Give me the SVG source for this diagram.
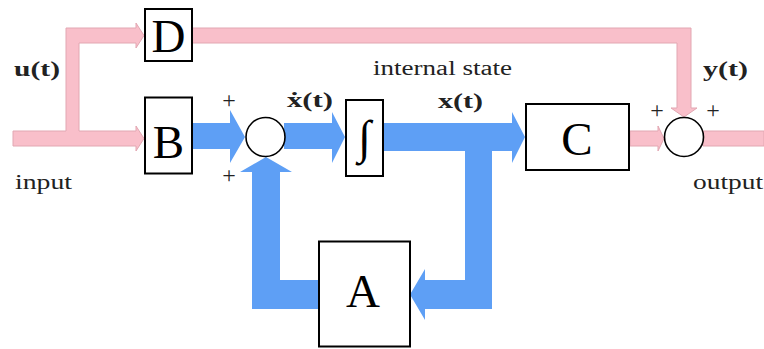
<svg xmlns="http://www.w3.org/2000/svg" width="764" height="349" viewBox="0 0 764 349">
<style>
.pink{fill:#f9bfca;stroke:#e2a7b2;stroke-width:1}
.blue{fill:#5e9ff5}
.box{fill:#fff;stroke:#000;stroke-width:2}
.sum{fill:#fff;stroke:#000;stroke-width:1.6}
text{font-family:"Liberation Serif","Times New Roman",serif}
.big{font-size:47px;text-anchor:middle;fill:#000}
.lbl{font-size:20px;font-weight:bold;fill:#222}
.txt{font-size:20px;fill:#222}
.pl{font-size:24px;text-anchor:middle;fill:#222}
</style>
<rect width="764" height="349" fill="#fff"/>
<g id="connectors">
  <path class="pink" d="M13,131 H66 V28 H136 V23 L144,35.5 L136,48 V43 H79 V131 H136 V126 L144,138.5 L136,151 V146 H13 Z"/>
  <path class="pink" d="M192,28 H691 V108 H697 L684,117 L671,108 H677 V43 H192 Z"/>
  <path class="pink" d="M630,131 H658 V126 L664,138.5 L658,151 V146 H630 Z"/>
  <path class="pink" d="M703,131 H764 V146 H703 Z"/>
  <path class="blue" d="M192,123 H230 V110 L245,137 L230,163 V149 H192 Z"/>
  <path class="blue" d="M284,123 H332 V112 L345,137 L332,163 V149 H284 Z"/>
  <path class="blue" d="M384,123 H512 V112 L525,137 L512,163 V151 H492 V309 H425 V320 L410,294.5 L425,269 V280 H465 V151 H384 Z"/>
  <path class="blue" d="M318,280 H280 V172 H292 L266,157 L240,172 H252 V309 H318 Z"/>
</g>
<g id="node-D"><rect class="box" x="145" y="9" width="47" height="52"/><text class="big" x="168.5" y="52">D</text></g>
<g id="node-B"><rect class="box" x="145" y="97.5" width="47" height="76"/><text class="big" x="168.5" y="158">B</text></g>
<g id="node-int"><rect class="box" x="346" y="100" width="37" height="76"/><text class="big" x="364.5" y="153" font-size="44" font-style="italic">∫</text></g>
<g id="node-C"><rect class="box" x="526" y="104" width="103" height="66"/><text class="big" x="577" y="155">C</text></g>
<g id="node-A"><rect class="box" x="319" y="241.5" width="91" height="105"/><text class="big" x="363" y="307">A</text></g>
<g id="sum1"><circle class="sum" cx="265.5" cy="137" r="19.5"/></g>
<g id="sum2"><circle class="sum" cx="684" cy="137" r="19.5"/></g>
<g id="labels">
  <text class="lbl" x="14" y="76" textLength="46" lengthAdjust="spacingAndGlyphs">u(t)</text>
  <text class="txt" x="15" y="189" textLength="57" lengthAdjust="spacingAndGlyphs">input</text>
  <text class="lbl" x="287" y="107" textLength="46" lengthAdjust="spacingAndGlyphs">ẋ(t)</text>
  <text class="lbl" x="438" y="108" textLength="45" lengthAdjust="spacingAndGlyphs">x(t)</text>
  <text class="txt" x="373" y="75" textLength="139" lengthAdjust="spacingAndGlyphs">internal state</text>
  <text class="lbl" x="703" y="76" textLength="45" lengthAdjust="spacingAndGlyphs">y(t)</text>
  <text class="txt" x="693" y="189" textLength="70" lengthAdjust="spacingAndGlyphs">output</text>
  <text class="pl" x="229" y="108">+</text>
  <text class="pl" x="229" y="183">+</text>
  <text class="pl" x="657" y="118">+</text>
  <text class="pl" x="713" y="118">+</text>
</g>
</svg>
